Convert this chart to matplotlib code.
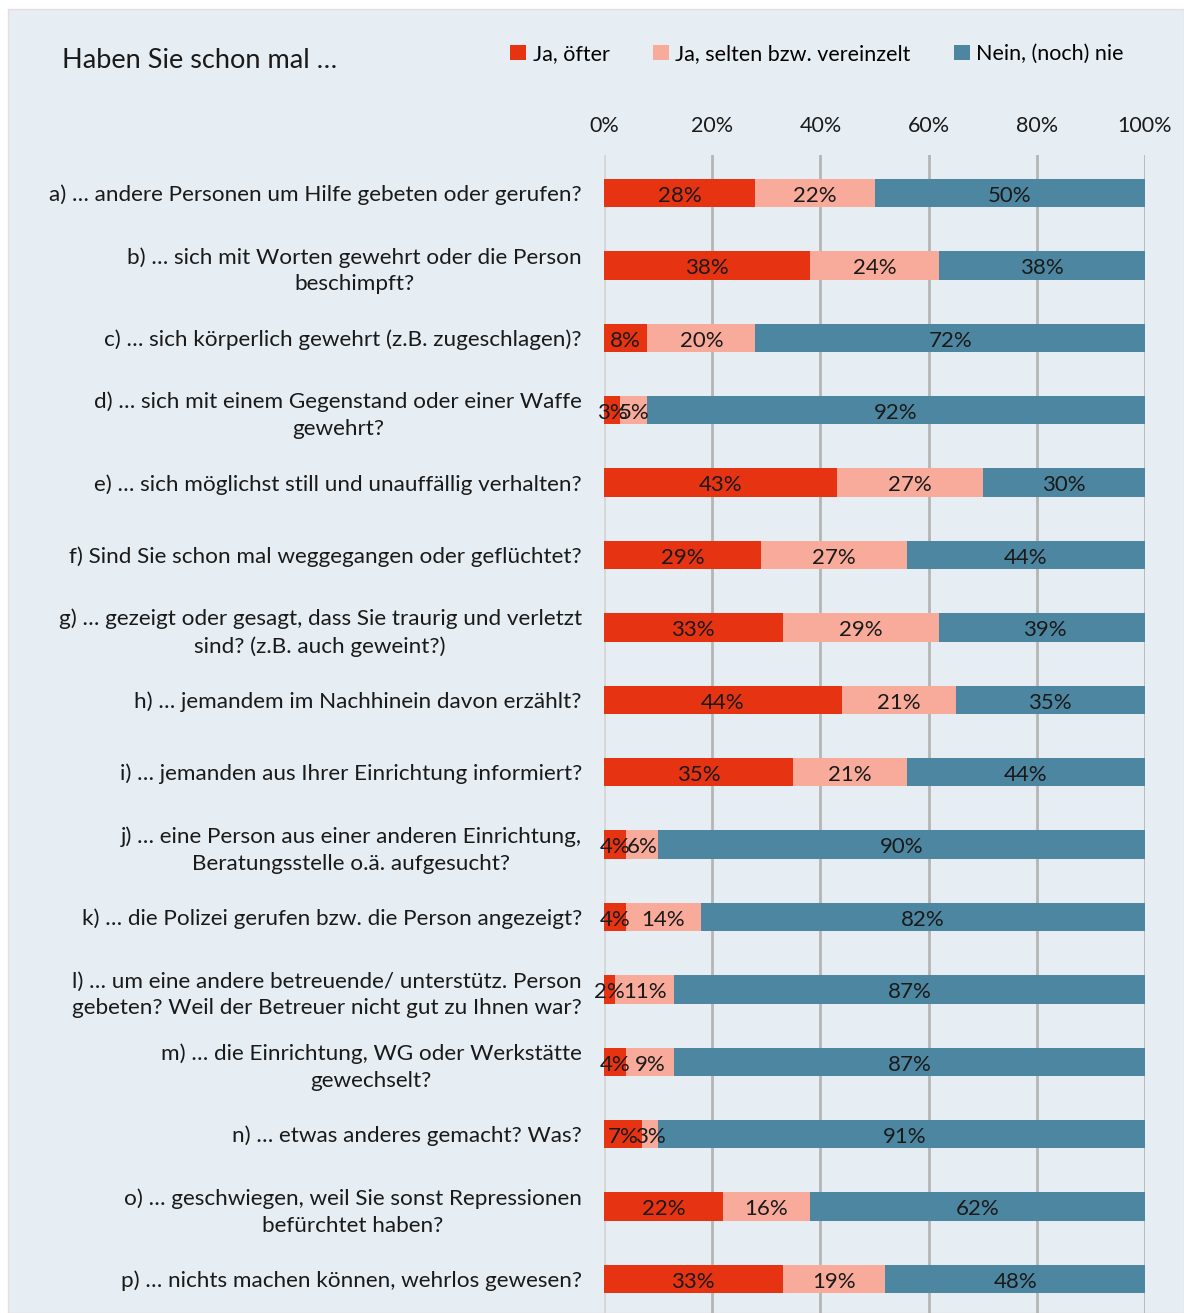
import matplotlib
matplotlib.use("Agg")
import matplotlib.pyplot as plt
from matplotlib.patches import Rectangle
import numpy as np

plt.rcParams['font.family'] = ['Lato', 'DejaVu Sans']

categories = [
    "a) … andere Personen um Hilfe gebeten oder gerufen?",
    "b) … sich mit Worten gewehrt oder die Person\nbeschimpft?",
    "c) … sich körperlich gewehrt (z.B. zugeschlagen)?",
    "d) … sich mit einem Gegenstand oder einer Waffe\ngewehrt?",
    "e) … sich möglichst still und unauffällig verhalten?",
    "f) Sind Sie schon mal weggegangen oder geflüchtet?",
    "g) … gezeigt oder gesagt, dass Sie traurig und verletzt\nsind? (z.B. auch geweint?)",
    "h) … jemandem im Nachhinein davon erzählt?",
    "i) … jemanden aus Ihrer Einrichtung informiert?",
    "j) … eine Person aus einer anderen Einrichtung,\nBeratungsstelle o.ä. aufgesucht?",
    "k) … die Polizei gerufen bzw. die Person angezeigt?",
    "l) … um eine andere betreuende/ unterstütz. Person\ngebeten? Weil der Betreuer nicht gut zu Ihnen war?",
    "m) … die Einrichtung, WG oder Werkstätte\ngewechselt?",
    "n) … etwas anderes gemacht? Was?",
    "o) … geschwiegen, weil Sie sonst Repressionen\nbefürchtet haben?",
    "p) … nichts machen können, wehrlos gewesen?",
]
ja_oefter = [28, 38, 8, 3, 43, 29, 33, 44, 35, 4, 4, 2, 4, 7, 22, 33]
ja_selten = [22, 24, 20, 5, 27, 27, 29, 21, 21, 6, 14, 11, 9, 3, 16, 19]
nein_nie = [50, 38, 72, 92, 30, 44, 39, 35, 44, 90, 82, 87, 87, 91, 62, 48]
series_names = ["Ja, öfter", "Ja, selten bzw. vereinzelt", "Nein, (noch) nie"]
x_ticks = [0, 20, 40, 60, 80, 100]
x_tick_labels = ["0%", "20%", "40%", "60%", "80%", "100%"]

colors = ['#E63312', '#F8AB9B', '#4D86A1']
bg = '#E6EEF4'

W, H = 1184, 1313
fig = plt.figure(figsize=(W / 100, H / 100), dpi=100, facecolor='white')
fig.patches.append(Rectangle((8 / W, 0), 1 - 8 / W, 1 - 9 / H, transform=fig.transFigure,
                             facecolor=bg, edgecolor='#EBDCDC', linewidth=1, zorder=-10))

ax = fig.add_axes([604 / W, 0, (1145 - 604) / W, 1 - 155 / H])
ax.set_facecolor('none')
y = np.arange(len(categories))
left = np.zeros(len(categories))
for vals, col, name in zip([ja_oefter, ja_selten, nein_nie], colors, series_names):
    vals = np.array(vals, dtype=float)
    ax.barh(y, vals, left=left, height=0.39, color=col, label=name, zorder=3)
    for yi, l, v in zip(y, left, vals):
        ax.text(l + v / 2, yi + 0.04, f"{int(v)}%", ha='center', va='center',
                fontsize=16, color='#1a1a1a', zorder=4)
    left = left + vals

ax.set_xlim(0, 100)
ax.set_ylim(15.47, -0.525)
ax.set_yticks(y)
ax.set_yticklabels(categories, fontsize=16.2, color='#1a1a1a', linespacing=1.42)
for t in ax.get_yticklabels():
    t.set_multialignment('center')
ax.xaxis.tick_top()
ax.set_xticks(x_ticks)
ax.set_xticklabels(x_tick_labels, fontsize=15.5, color='#1a1a1a')
ax.tick_params(axis='both', length=0)
ax.tick_params(axis='y', pad=16)
ax.tick_params(axis='x', pad=14)
for s in ax.spines.values():
    s.set_visible(False)
ax.grid(axis='x', color='#B5B5B5', linewidth=2, zorder=1)
ax.grid(axis='y', visible=False)
ax.axvline(0, color='#D9D9D9', linewidth=2, zorder=2)

fig.text(62 / W, 1 - 60 / H, "Haben Sie schon mal …", fontsize=19.5, color='#1a1a1a',
         ha='left', va='center')

handles, labels = ax.get_legend_handles_labels()
fig.legend(handles, labels, loc='center', bbox_to_anchor=(817 / W, 1 - 54 / H), ncol=3,
           frameon=False, fontsize=15.5, handlelength=0.75, handleheight=0.75,
           handletextpad=0.3, columnspacing=2.0)

fig.savefig("out.png", dpi=100, facecolor='white')
